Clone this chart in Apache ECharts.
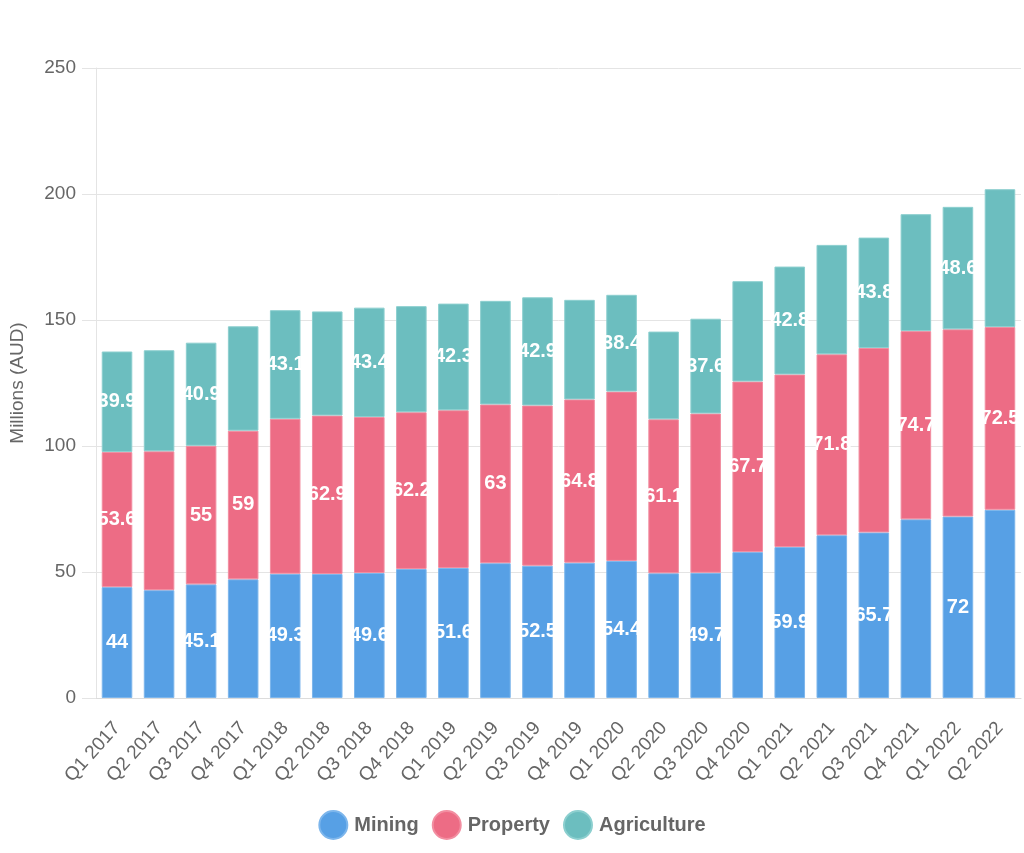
<!DOCTYPE html>
<html lang="en">
<head>
  <meta charset="UTF-8">
  <title>Revenue by sector</title>
  <script src="https://cdn.jsdelivr.net/npm/echarts@6/dist/echarts.min.js"></script>
  <style>
    html, body { margin: 0; padding: 0; background: #fff; }
    #chart { width: 1024px; height: 853px; }
  </style>
</head>
<body>
<div id="chart"></div>
<script>
  // quarterly values, millions AUD
  const quarters = ['Q1 2017', 'Q2 2017', 'Q3 2017', 'Q4 2017', 'Q1 2018', 'Q2 2018', 'Q3 2018', 'Q4 2018',
    'Q1 2019', 'Q2 2019', 'Q3 2019', 'Q4 2019', 'Q1 2020', 'Q2 2020', 'Q3 2020', 'Q4 2020',
    'Q1 2021', 'Q2 2021', 'Q3 2021', 'Q4 2021', 'Q1 2022', 'Q2 2022'];
  const mining = [44, 42.8, 45.1, 47.1, 49.3, 49.2, 49.6, 51.2, 51.6, 53.5, 52.5, 53.7,
    54.4, 49.5, 49.7, 57.9, 59.9, 64.6, 65.7, 70.9, 72, 74.7];
  const property = [53.6, 55.1, 55, 59, 61.5, 62.9, 61.9, 62.2, 62.6, 63, 63.6, 64.8,
    67.2, 61.1, 63.2, 67.7, 68.5, 71.8, 73.2, 74.7, 74.3, 72.5];
  const agriculture = [39.9, 40.1, 40.9, 41.4, 43.1, 41.3, 43.4, 42.1, 42.3, 41.1, 42.9, 39.5,
    38.4, 34.8, 37.6, 39.8, 42.8, 43.4, 43.8, 46.4, 48.6, 54.7];

  const FONT = 'Liberation Sans, Arial, sans-serif';
  const gridLeft = 96, gridRight = 3;

  let chart = echarts.init(document.getElementById('chart'));

  // hide a label when it would run into the last one shown in the same row
  function labelMask(values) {
    const ctx = document.createElement('canvas').getContext('2d');
    ctx.font = 'bold 20px ' + FONT;
    const step = (chart.getWidth() - gridLeft - gridRight) / values.length;
    const pad = 8;
    let lastRight = -Infinity;
    return values.map(function (v, i) {
      const w = ctx.measureText(String(v)).width + 2 * pad;
      const c = i * step;
      if (c - w / 2 >= lastRight) {
        lastRight = c + w / 2;
        return true;
      }
      return false;
    });
  }

  const masks = [labelMask(mining), labelMask(property), labelMask(agriculture)];

  function makeSeries(name, data, color, border, idx) {
    return {
      name: name,
      type: 'bar',
      stack: 'total',
      data: data,
      barCategoryGap: '27.3%',
      itemStyle: {color: color, borderColor: border, borderWidth: 1},
      label: {
        show: true,
        position: 'inside',
        color: '#fff',
        fontWeight: 'bold',
        fontSize: 20,
        fontFamily: FONT,
        formatter: function (p) {
          return masks[idx][p.dataIndex] ? String(p.value) : '';
        }
      },
      emphasis: {disabled: true}
    };
  }

  let option = {
    animation: false,
    grid: {left: gridLeft, right: gridRight, top: 68, bottom: 155},
    legend: {
      bottom: 8,
      left: 'center',
      icon: 'circle',
      itemWidth: 28,
      itemHeight: 28,
      itemGap: 13,
      textStyle: {color: '#666', fontSize: 20, fontWeight: 'bold', fontFamily: FONT, padding: [0, 0, 0, 2]},
      data: ['Mining', 'Property', 'Agriculture']
    },
    xAxis: {
      type: 'category',
      data: quarters,
      axisLine: {lineStyle: {color: '#dcdcdc'}},
      axisTick: {show: false},
      axisLabel: {rotate: 48, color: '#666', fontSize: 19, fontFamily: FONT, margin: 27, interval: 0}
    },
    yAxis: {
      type: 'value',
      min: 0,
      max: 250,
      interval: 50,
      name: 'Millions (AUD)',
      nameLocation: 'middle',
      nameGap: 69,
      nameTextStyle: {color: '#666', fontSize: 19, fontFamily: FONT},
      axisLine: {show: true, lineStyle: {color: '#e4e4e4'}},
      axisTick: {show: true, length: 14, lineStyle: {color: '#e4e4e4'}},
      splitLine: {lineStyle: {color: '#e4e4e4'}},
      axisLabel: {color: '#666', fontSize: 19, fontFamily: FONT, margin: 20}
    },
    series: [
      makeSeries('Mining', mining, '#57a0e5', '#7db6ec', 0),
      makeSeries('Property', property, '#ed6c85', '#f28ea1', 1),
      makeSeries('Agriculture', agriculture, '#6cbebf', '#8ccfcf', 2)
    ]
  };
  chart.setOption(option);
</script>
</body>
</html>
